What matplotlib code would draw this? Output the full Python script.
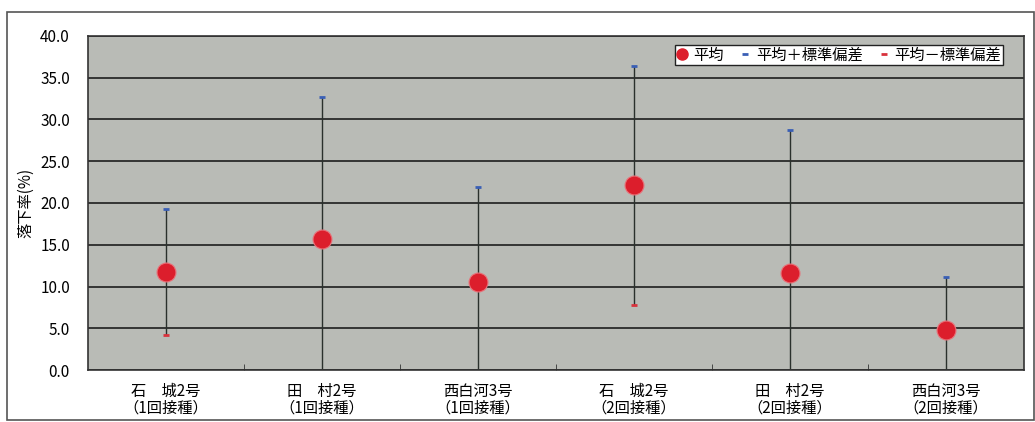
import matplotlib
matplotlib.use('Agg')

import matplotlib.pyplot as plt
from matplotlib.lines import Line2D
from matplotlib.patches import Rectangle

plt.rcParams['font.family'] = ['Noto Sans CJK JP', 'DejaVu Sans']

# 品種・接種回数ごとの落下率
categories = ['石\u3000城2号\n（1回接種）', '田\u3000村2号\n（1回接種）', '西白河3号\n（1回接種）',
              '石\u3000城2号\n（2回接種）', '田\u3000村2号\n（2回接種）', '西白河3号\n（2回接種）']
mean = [11.75, 15.7, 10.5, 22.1, 11.6, 4.8]
upper = [19.3, 32.7, 21.9, 36.4, 28.7, 11.2]   # 平均＋標準偏差
lower = [4.2, -1.3, -0.9, 7.8, -5.5, -1.6]     # 平均－標準偏差

yticks = [0, 5, 10, 15, 20, 25, 30, 35, 40]

fig = plt.figure(figsize=(10.35, 4.22), dpi=100)
ax = fig.add_axes([0.085, 0.123, 0.904, 0.792])
ax.set_facecolor('#b9bbb6')

x = list(range(len(categories)))

# 縦線（平均±標準偏差の範囲）
ax.vlines(x, lower, upper, colors='#2a302c', linewidth=1.0, zorder=2)
ax.scatter(x, upper, marker='_', s=22, linewidths=2.0, color='#3a5fb5', zorder=3)
ax.scatter(x, lower, marker='_', s=22, linewidths=2.0, color='#d8323c', zorder=3)
ax.scatter(x, mean, s=185, color='#dc1e2c', edgecolors='#e87078', linewidths=0.8, zorder=4)

ax.set_xlim(-0.5, len(categories) - 0.5)
ax.set_ylim(0, 40)
ax.set_yticks(yticks)
ax.set_yticklabels(['%.1f' % v for v in yticks], fontsize=11)
ax.yaxis.grid(True, color='#1e1e1e', linewidth=1.2)
ax.set_axisbelow(True)
ax.tick_params(axis='y', length=0, pad=13)

ax.set_xticks(x)
ax.set_xticklabels(categories, fontsize=11, linespacing=1.0)
ax.set_xticks([i + 0.5 for i in x[:-1]], minor=True)
ax.tick_params(axis='x', which='major', length=0, pad=9)
ax.tick_params(axis='x', which='minor', direction='in', length=4, color='#333333')

for s in ax.spines.values():
    s.set_color('#333333')
    s.set_linewidth(1.2)

ax.set_ylabel('落下率(%)', fontsize=11, labelpad=4)

handles = [
    Line2D([], [], marker='o', linestyle='none', markersize=8, color='#dc1e2c'),
    Line2D([], [], marker='_', linestyle='none', markersize=5, markeredgewidth=2, color='#3a5fb5'),
    Line2D([], [], marker='_', linestyle='none', markersize=5, markeredgewidth=2, color='#d8323c'),
]
leg = ax.legend(handles, ['平均', '平均＋標準偏差', '平均－標準偏差'], loc='upper right',
                ncol=3, fontsize=11, frameon=True, fancybox=False, borderpad=0.1,
                handlelength=0.8, handletextpad=0.3, columnspacing=1.0,
                bbox_to_anchor=(0.986, 0.995))
leg.get_frame().set_edgecolor('#222222')
leg.get_frame().set_linewidth(1.0)
leg.get_frame().set_facecolor('white')
leg.get_frame().set_alpha(1)

# グラフ全体の枠
fig.patches.append(Rectangle((7 / 1035, 2 / 422), 1027 / 1035, 408 / 422, transform=fig.transFigure,
                             fill=False, edgecolor='#555555', linewidth=1.2))

fig.savefig('out.png', dpi=100)
